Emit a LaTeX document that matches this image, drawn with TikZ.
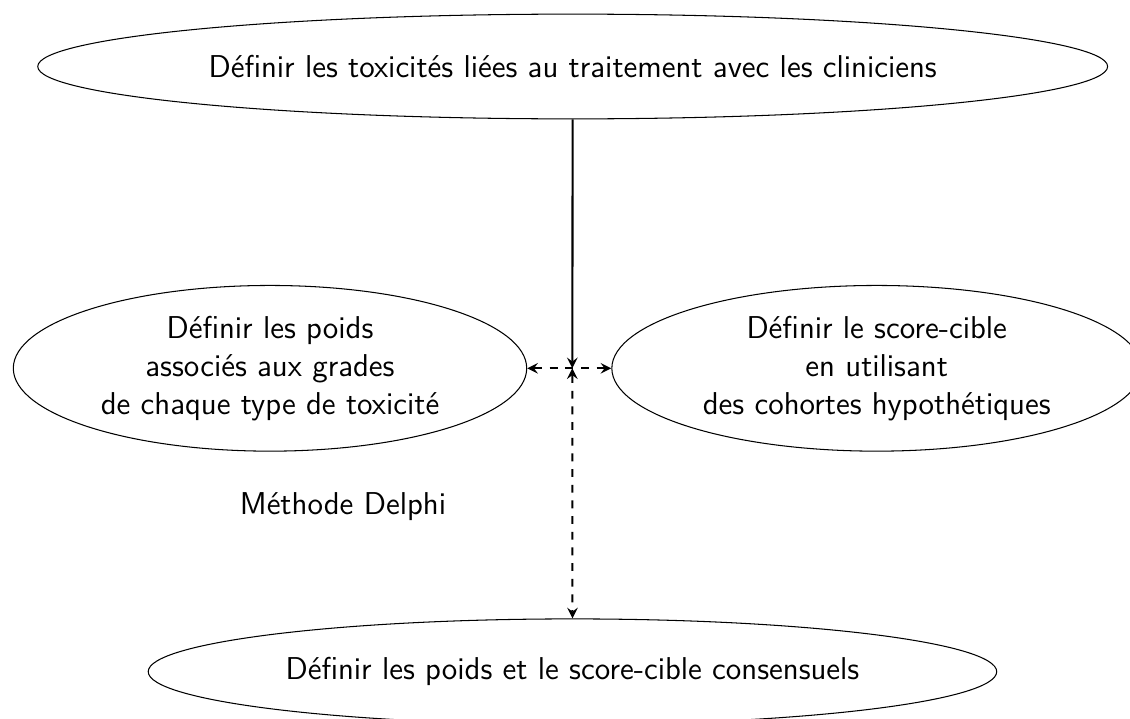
\documentclass[tikz,border=0pt]{standalone}
\usetikzlibrary{shapes.geometric,arrows}
\begin{document}
\begin{tikzpicture}[
  every node/.style={font=\fontsize{12.1}{14.6}\selectfont\sffamily},
  etape/.style={draw,ellipse,align=center,inner sep=0pt},
  fleche/.style={thick,-stealth}]
\useasboundingbox (0,0) rectangle (15.209,-9.677);
\coordinate (centre) at (7.703,-4.957);
% Draw steps
\node[etape,minimum width=14.40cm,minimum height=1.41cm] (toxicites) at (7.708,-0.895)
  {D\'efinir les toxicit\'es li\'ees au traitement avec les cliniciens};
\node[etape,minimum width=6.91cm,minimum height=2.23cm] (poids) at (3.634,-4.957)
  {D\'efinir les poids\\associ\'es aux grades\\de chaque type de toxicit\'e};
\node[etape,minimum width=7.13cm,minimum height=2.23cm] (score) at (11.80,-4.957)
  {D\'efinir le score-cible\\en utilisant\\des cohortes hypoth\'etiques};
\node[etape,minimum width=11.42cm,minimum height=1.42cm] (consensus) at (7.705,-9.04)
  {D\'efinir les poids et le score-cible consensuels};
% Draw arrows
\draw[fleche] (toxicites) -- (centre);
\draw[fleche,dashed,stealth-stealth] (poids) -- (score);
\draw[fleche,dashed,stealth-stealth] (centre) -- (consensus);
% Label
\node (delphi) at (4.616,-6.824) {M\'ethode Delphi};
\end{tikzpicture}
\end{document}
